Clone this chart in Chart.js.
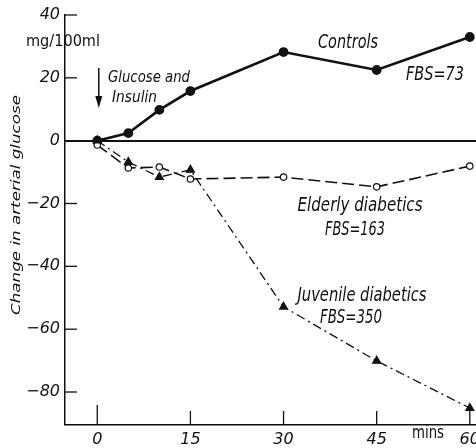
<!doctype html>
<html>
<head>
    <meta charset="UTF-8">
    <title>Glucose and insulin</title>
    <script src="https://cdn.jsdelivr.net/npm/chart.js"></script>
    <style>
        html, body { margin: 0; padding: 0; background: #fff; }
        #box { width: 476px; height: 448px; position: relative; }
    </style>
</head>
<body>
    <div id="box"><canvas id="grafico"></canvas></div>

    <script>
        // minutes after glucose + insulin
        var tempos = [0, 5, 10, 15, 30, 45, 60];
        // change in arterial glucose, mg/100ml
        var controles = [0, 2.4, 9.8, 15.8, 28.2, 22.5, 33];
        var idosos = [-1.4, -8.7, -8.4, -12.2, -11.6, -14.7, -8.1];
        var juvenis = [0, -6.8, -11.6, -9.3, -52.9, -70.1, -85.1];
        var ticksX = [0, 15, 30, 45, 60];
        var ticksY = [-80, -60, -40, -20, 0, 20, 40];

        var fonte = "'DejaVu Sans', sans-serif";

        function pontos(valores) {
            return tempos.map((t, i) => ({ x: t, y: valores[i] }));
        }

        function menos(v) {
            return v < 0 ? '\u2212' + Math.abs(v) : '' + v;
        }

        // text squeezed or stretched to the width it has in the figure
        function texto(c, s, x, y, tam, larg, estilo) {
            c.save();
            c.font = (estilo || '') + ' ' + tam + 'px ' + fonte;
            var w = c.measureText(s).width;
            c.translate(x, y);
            c.scale(larg / w, 1);
            c.textAlign = 'center';
            c.textBaseline = 'middle';
            c.fillText(s, 0, 0);
            c.restore();
        }

        // ticks pointing inward, labels, arrow and captions
        var extras = {
            id: 'extras',
            afterDraw(chart) {
                var c = chart.ctx;
                var sx = chart.scales.x, sy = chart.scales.y;
                var a = chart.chartArea;
                c.save();
                c.strokeStyle = '#111';
                c.fillStyle = '#111';
                c.lineWidth = 1.3;
                ticksY.forEach(v => {
                    var y = sy.getPixelForValue(v);
                    c.beginPath(); c.moveTo(a.left, y); c.lineTo(a.left + 12, y); c.stroke();
                });
                ticksX.forEach((v, i) => {
                    var x = sx.getPixelForValue(v);
                    c.beginPath(); c.moveTo(x, a.bottom); c.lineTo(x, a.bottom - (i == 0 ? 20 : 14)); c.stroke();
                });

                // arrow for the injection
                var ax = sx.getPixelForValue(0) + 1.5;
                c.lineWidth = 1.5;
                c.beginPath(); c.moveTo(ax, 68); c.lineTo(ax, 102); c.stroke();
                c.beginPath(); c.moveTo(ax - 3.5, 96); c.lineTo(ax, 108); c.lineTo(ax + 3.5, 96); c.closePath(); c.fill();

                texto(c, 'mg/100ml', 63, 42, 16, 74);
                texto(c, 'mins', 428, 434, 17, 32);

                texto(c, 'Glucose and', 149, 77.5, 16, 82, 'italic');
                texto(c, 'Insulin', 134.5, 97.5, 16, 45, 'italic');
                texto(c, 'Controls', 348, 43, 20, 60, 'italic');
                texto(c, 'FBS=73', 435, 75, 19, 58, 'italic');
                texto(c, 'Elderly diabetics', 360, 206, 19, 125, 'italic');
                texto(c, 'FBS=163', 355, 230, 19, 60, 'italic');
                texto(c, 'Juvenile diabetics', 362, 296, 19, 129, 'italic');
                texto(c, 'FBS=350', 351, 318, 19, 62, 'italic');

                c.translate(17, 205);
                c.rotate(-Math.PI / 2);
                texto(c, 'Change in arterial glucose', 0, 0, 13, 220, 'italic');
                c.restore();
            }
        };

        var grafico = new Chart(document.getElementById('grafico'), {
            type: 'line',
            data: {
                datasets: [
                    {
                        label: 'Juvenile diabetics',
                        data: pontos(juvenis),
                        borderColor: '#111',
                        borderWidth: 1.3,
                        borderDash: [9, 4, 2, 4],
                        pointStyle: 'triangle',
                        pointRadius: 4.5,
                        pointBackgroundColor: '#111',
                        pointBorderColor: '#111',
                        fill: false,
                        tension: 0
                    },
                    {
                        label: 'Elderly diabetics',
                        data: pontos(idosos),
                        borderColor: '#111',
                        borderWidth: 1.6,
                        borderDash: [12, 5],
                        pointStyle: 'circle',
                        pointRadius: 3.2,
                        pointBorderWidth: 1.2,
                        pointBackgroundColor: '#fff',
                        pointBorderColor: '#111',
                        fill: false,
                        tension: 0
                    },
                    {
                        label: 'Controls',
                        data: pontos(controles),
                        borderColor: '#111',
                        borderWidth: 2.6,
                        pointStyle: 'circle',
                        pointRadius: 3.6,
                        pointBackgroundColor: '#111',
                        pointBorderColor: '#111',
                        fill: false,
                        tension: 0
                    }
                ]
            },
            options: {
                responsive: true,
                maintainAspectRatio: false,
                animation: false,
                layout: { autoPadding: false, padding: { top: 15, right: 0, left: 0, bottom: 0 } },
                plugins: {
                    legend: { display: false },
                    tooltip: { enabled: false }
                },
                scales: {
                    x: {
                        type: 'linear',
                        min: -5.2,
                        max: 61,
                        afterBuildTicks: s => { s.ticks = ticksX.map(v => ({ value: v })); },
                        afterFit: s => { s.height = 23; s.paddingLeft = 0; s.paddingRight = 0; },
                        grid: { display: false },
                        border: { display: true, color: '#111', width: 1.5 },
                        ticks: {
                            color: '#111',
                            padding: -3,
                            maxRotation: 0,
                            font: { family: fonte, size: 16, style: 'italic' }
                        }
                    },
                    y: {
                        type: 'linear',
                        min: -90.5,
                        max: 40,
                        afterBuildTicks: s => { s.ticks = ticksY.map(v => ({ value: v })); },
                        afterFit: s => { s.width = 65; s.paddingTop = 0; s.paddingBottom = 0; },
                        grid: {
                            drawTicks: false,
                            color: c => (c.tick && c.tick.value === 0) ? '#111' : 'rgba(0,0,0,0)',
                            lineWidth: c => (c.tick && c.tick.value === 0) ? 2 : 0
                        },
                        border: { display: true, color: '#111', width: 1.5 },
                        ticks: {
                            color: '#111',
                            padding: 5,
                            callback: v => menos(v),
                            font: { family: fonte, size: 16, style: 'italic' }
                        }
                    }
                }
            },
            plugins: [extras]
        });
    </script>
</body>
</html>
